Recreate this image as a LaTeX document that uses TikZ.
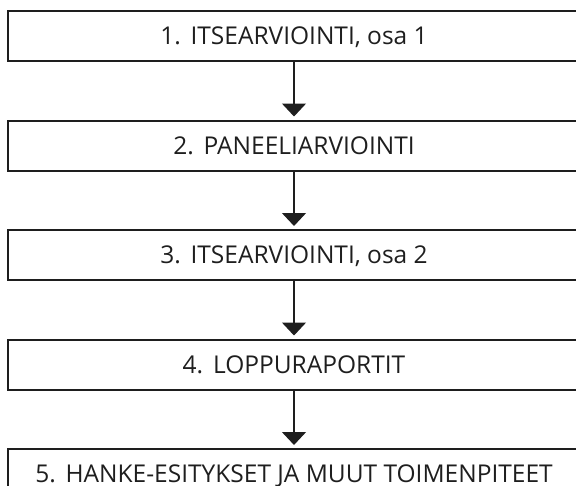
\documentclass[tikz,border=0pt]{standalone}
\usepackage{fontspec}
\setmainfont{Open Sans}
\usetikzlibrary{arrows.meta, positioning}
\definecolor{boxline}{RGB}{30,30,30}

\begin{document}
\begin{tikzpicture}[
    x=1pt, y=1pt,
    node distance=57.5pt,
    stepbox/.style={rectangle, draw=boxline, line width=2pt, minimum width=572pt, minimum height=50pt, inner sep=0pt,
        text=boxline, font=\fontsize{24.5}{28}\selectfont, text height=17.5pt, text depth=0pt},
    arrow/.style={-{Triangle[width=24pt, length=13pt]}, line width=1.3pt, boxline, shorten >=3pt}
]
    \useasboundingbox (0,0) rectangle (576,-485);
    \node[stepbox] (box1) at (294,-36) {1.\hspace{.4em}ITSEARVIOINTI, osa 1};
    \node[stepbox, below=of box1] (box2) {2.\hspace{.4em}PANEELIARVIOINTI};
    \node[stepbox, below=of box2] (box3) {3.\hspace{.4em}ITSEARVIOINTI, osa 2};
    \node[stepbox, below=of box3] (box4) {4.\hspace{.4em}LOPPURAPORTIT};
    \node[stepbox, below=of box4] (box5) {5.\hspace{.4em}HANKE-ESITYKSET JA MUUT TOIMENPITEET};

    \draw[arrow] (box1) -- (box2);
    \draw[arrow] (box2) -- (box3);
    \draw[arrow] (box3) -- (box4);
    \draw[arrow] (box4) -- (box5);
\end{tikzpicture}
\end{document}
